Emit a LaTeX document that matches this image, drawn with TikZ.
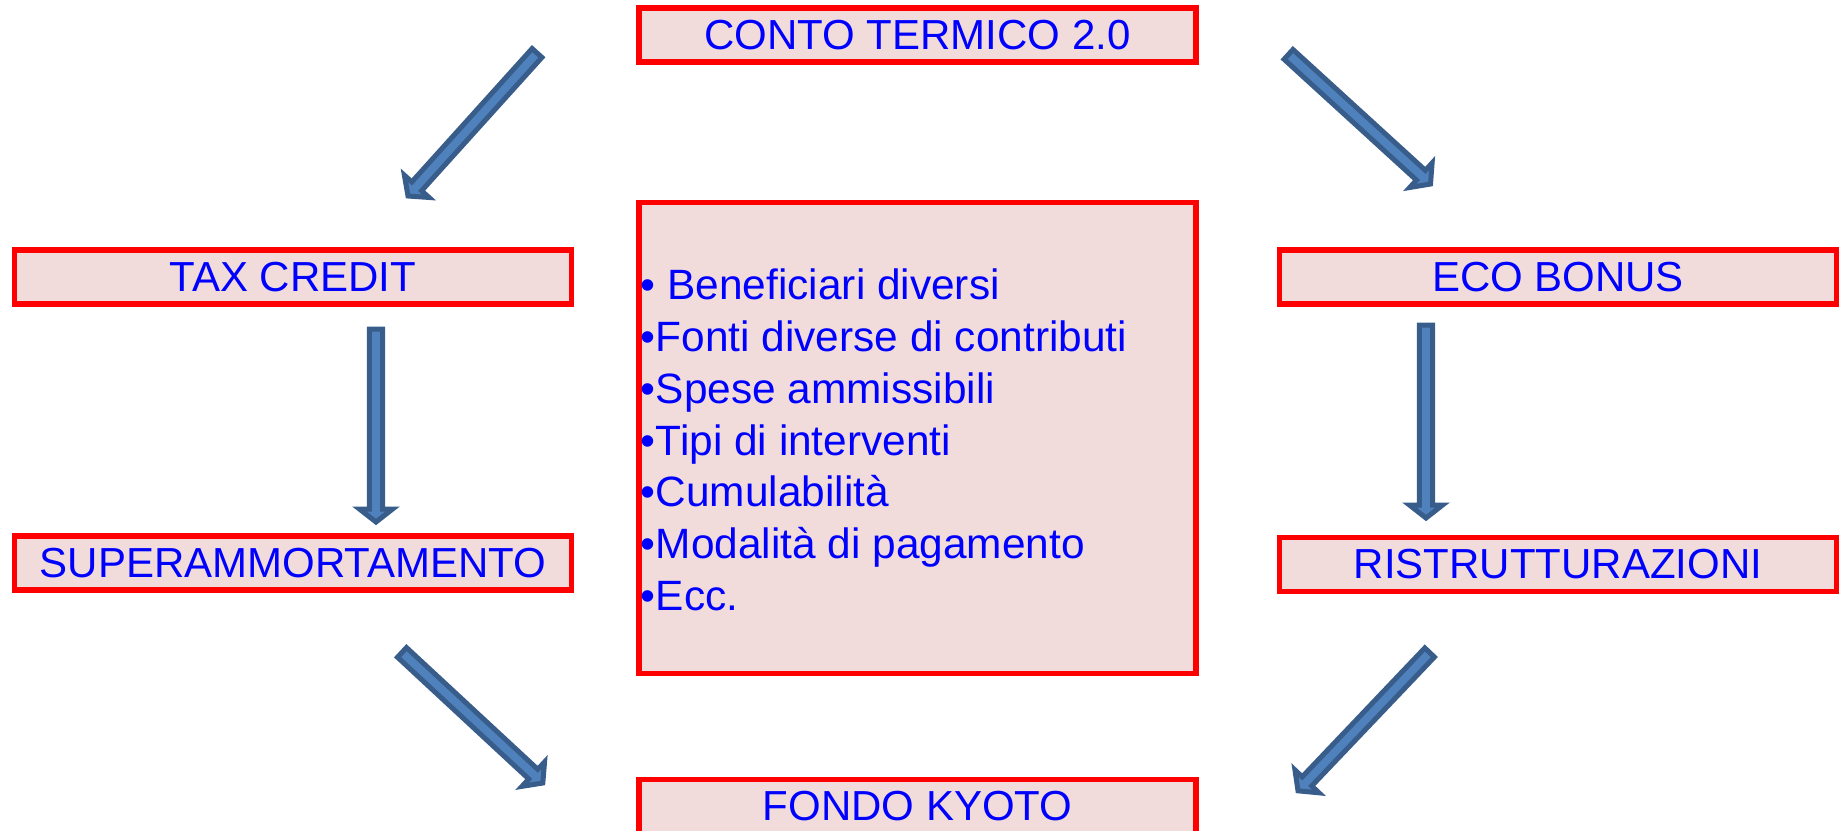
\documentclass[tikz,border=0pt]{standalone}
\usepackage{fontspec}
\setmainfont{Liberation Sans}
\usetikzlibrary{calc}
\definecolor{boxfill}{HTML}{F2DCDB}
\definecolor{boxline}{HTML}{FF0000}
\definecolor{txtblue}{HTML}{0000FF}
\definecolor{arrfill}{HTML}{4F81BD}
\definecolor{arrline}{HTML}{385D8A}
\newcommand\myblockarr[2]{%
  \coordinate (#1h) at ($(#2)!6.5pt!(#1)$);
  \draw[blockarrowstyle]
    ($(#1)!3.3pt!90:(#2)$) -- ($(#1h)!3.3pt!90:(#2)$) -- ($(#1h)!8.3pt!90:(#2)$) --
    (#2) -- ($(#1h)!8.3pt!-90:(#2)$) -- ($(#1h)!3.3pt!-90:(#2)$) --
    ($(#1)!3.3pt!-90:(#2)$) -- cycle;}
\tikzset{
  labelbox/.style={draw=boxline, line width=2.7pt, fill=boxfill, text=txtblue,
    font=\fontsize{21pt}{25.8pt}\selectfont, minimum width=278.4pt,
    minimum height=26.9pt, inner sep=0pt},
  blockarrowstyle/.style={draw=arrline, fill=arrfill, line width=2.5pt, line join=miter},
  listtext/.style={text=txtblue, font=\fontsize{21.2pt}{25.9pt}\selectfont,
    align=left, inner sep=0pt, anchor=west}
}
\begin{document}
\begin{tikzpicture}[x=0.5pt, y=-0.5pt]
\useasboundingbox (0,0) rectangle (1845,830);
\clip (0,0) rectangle (1845,830);
\node[labelbox] (conto) at (917.5,35) {CONTO TERMICO 2.0};
\node[labelbox] (tax) at (293,277) {TAX CREDIT};
\node[labelbox] (eco) at (1558,277) {ECO BONUS};
\node[labelbox] (super) at (293,563) {SUPERAMMORTAMENTO};
\node[labelbox] (ristr) at (1558,564.5) {RISTRUTTURAZIONI};
\node[labelbox] (fondo) at (917.5,806.5) {FONDO KYOTO};
\node[labelbox, minimum height=235.5pt] (centro) at (917.5,438) {};
\node[listtext] (lista) at (640.5,440) {• Beneficiari diversi\\•Fonti diverse di contributi\\•Spese ammissibili\\•Tipi di interventi\\•Cumulabilità\\•Modalità di pagamento\\•Ecc.};
\coordinate (a1) at (537,53);     \coordinate (b1) at (408,196);
\coordinate (a2) at (1288.5,54.4); \coordinate (b2) at (1430.5,184);
\coordinate (a3) at (376,329);    \coordinate (b3) at (376,522);
\coordinate (a4) at (1426,325);   \coordinate (b4) at (1426,518);
\coordinate (a5) at (402,652.4);  \coordinate (b5) at (542.8,783);
\coordinate (a6) at (1429.6,652.5); \coordinate (b6) at (1298,790.8);
\myblockarr{a1}{b1}
\myblockarr{a2}{b2}
\myblockarr{a3}{b3}
\myblockarr{a4}{b4}
\myblockarr{a5}{b5}
\myblockarr{a6}{b6}
\end{tikzpicture}
\end{document}
